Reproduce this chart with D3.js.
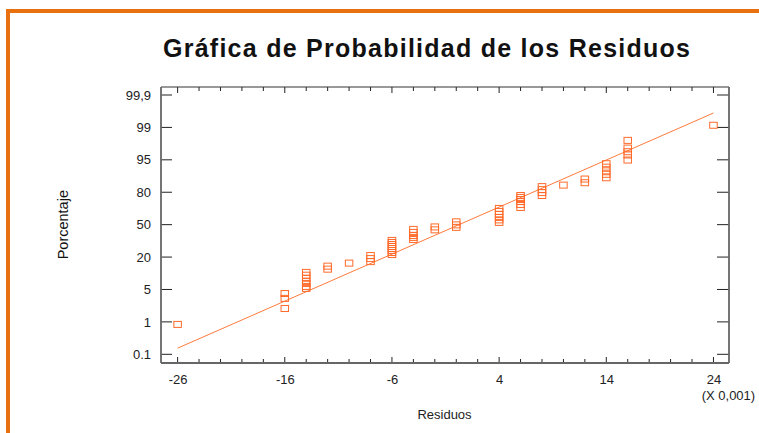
<!DOCTYPE html>
<html>
<head>
<meta charset="utf-8">
<script src="https://cdn.jsdelivr.net/npm/d3@7"></script>
<style>
  html, body { margin: 0; padding: 0; background: #fff; }
  svg { display: block; }
  text { font-family: "Liberation Sans", Arial, sans-serif; }
</style>
</head>
<body>
<div id="chart"></div>
<script>
// ---- data ----
const title = "Gráfica de Probabilidad de los Residuos";
const xLabel = "Residuos";
const yLabel = "Porcentaje";
const xScaleNote = "(X 0,001)";
const xTickValues = [-26, -16, -6, 4, 14, 24];
const yTickValues = [0.1, 1, 5, 20, 50, 80, 95, 99, 99.9];
const yTickLabels = ["0.1", "1", "5", "20", "50", "80", "95", "99", "99,9"];

// residuals (x 0.001) and plotted cumulative percentage for each point
const residuals = [
  -26,
  -16, -16, -16,
  -14, -14, -14, -14, -14, -14, -14,
  -12, -12,
  -10,
  -8, -8, -8,
  -6, -6, -6, -6, -6, -6, -6, -6,
  -4, -4, -4, -4, -4,
  -2, -2,
  0, 0, 0,
  4, 4, 4, 4, 4, 4,
  6, 6, 6, 6, 6, 6,
  8, 8, 8, 8,
  10,
  12, 12,
  14, 14, 14, 14, 14,
  16, 16, 16, 16, 16,
  24
];
const percents = [
  0.93,
  4.5, 3.9, 2.65,
  12.9, 11.6, 10.2, 8.75, 7.8, 6.4, 5.5,
  15.8, 14.4,
  17.2,
  21.4, 19.3, 17.9,
  35.4, 33.5, 31.6, 29.8, 27.9, 26.1, 24.2, 22.3,
  45.6, 42.8, 40.0, 38.2, 36.3,
  47.9, 45.2,
  52.6, 49.8, 47.5,
  65.0, 62.2, 59.5, 56.7, 54.4, 52.1,
  77.0, 75.2, 73.3, 71.4, 68.7, 65.9,
  82.6, 81.2, 79.7, 77.0,
  83.3,
  86.1, 84.4,
  93.2, 91.6, 89.9, 88.3, 86.7,
  97.4, 96.45, 96.0, 95.6, 94.9,
  99.06
];
// fitted reference line (endpoints)
const fitX = [-26, 24];
const fitP = [0.27, 99.4];

// ---- layout ----
const W = 759, H = 433;
const plot = { left: 161, right: 729, top: 87, bottom: 363 };
const yFirst = 354.3, yLast = 95;

const svg = d3.select("#chart").append("svg")
  .attr("width", W).attr("height", H);

// orange page border
svg.append("rect").attr("x", 6).attr("y", 9).attr("width", W - 6).attr("height", 4).attr("fill", "#e8700e");
svg.append("rect").attr("x", 6).attr("y", 9).attr("width", 4).attr("height", H - 9).attr("fill", "#e8700e");

const x = d3.scaleLinear().domain([-27.55, 25.45]).range([plot.left, plot.right]);
const step = (yFirst - yLast) / (yTickValues.length - 1);
const y = d3.scaleLinear()
  .domain(yTickValues)
  .range(yTickValues.map((d, i) => yFirst - i * step));

// title
svg.append("text")
  .attr("x", 163).attr("y", 57)
  .attr("font-size", 25).attr("font-weight", "bold")
  .attr("fill", "#111")
  .attr("textLength", 527).attr("lengthAdjust", "spacing")
  .text(title);

// minor x ticks
const xMinor = d3.range(-26, 24.01, 2);
const g = svg.append("g");

// bottom axis
const bottomAxis = d3.axisBottom(x).tickValues(xTickValues).tickSize(0).tickPadding(12)
  .tickFormat(d3.format("d"));
const gb = svg.append("g").attr("transform", `translate(0,${plot.bottom})`).call(bottomAxis);
gb.select(".domain").remove();
gb.selectAll("text").attr("font-size", 13).attr("fill", "#222")
  .attr("font-family", "'Liberation Sans', Arial, sans-serif")
  .text(d => d < 0 ? "-" + Math.abs(d) : d);

// left axis labels
const leftAxis = d3.axisLeft(y).tickValues(yTickValues).tickSize(0).tickPadding(10)
  .tickFormat((d, i) => yTickLabels[i]);
const gl = svg.append("g").attr("transform", `translate(${plot.left},0)`).call(leftAxis);
gl.select(".domain").remove();
gl.selectAll("text").attr("font-size", 13).attr("fill", "#222")
  .attr("font-family", "'Liberation Sans', Arial, sans-serif");

// ticks inside frame
const tickColor = "#222";
xMinor.forEach(v => {
  const major = xTickValues.includes(v);
  const len = major ? 6 : 4;
  g.append("line").attr("x1", x(v)).attr("x2", x(v))
    .attr("y1", plot.bottom).attr("y2", plot.bottom - len)
    .attr("stroke", tickColor).attr("stroke-width", 1);
  g.append("line").attr("x1", x(v)).attr("x2", x(v))
    .attr("y1", plot.top).attr("y2", plot.top + len)
    .attr("stroke", tickColor).attr("stroke-width", 1);
});
yTickValues.forEach(v => {
  g.append("line").attr("x1", plot.left).attr("x2", plot.left + 11)
    .attr("y1", y(v)).attr("y2", y(v)).attr("stroke", tickColor).attr("stroke-width", 1);
  g.append("line").attr("x1", plot.right).attr("x2", plot.right - 12)
    .attr("y1", y(v)).attr("y2", y(v)).attr("stroke", tickColor).attr("stroke-width", 1);
});

// frame
svg.append("line").attr("x1", plot.left).attr("x2", plot.right).attr("y1", plot.top).attr("y2", plot.top)
  .attr("stroke", "#333").attr("stroke-width", 1);
svg.append("line").attr("x1", plot.left).attr("x2", plot.right).attr("y1", plot.bottom).attr("y2", plot.bottom)
  .attr("stroke", "#666").attr("stroke-width", 1.8);
svg.append("line").attr("x1", plot.left).attr("x2", plot.left).attr("y1", plot.top).attr("y2", plot.bottom)
  .attr("stroke", "#666").attr("stroke-width", 1.8);
svg.append("line").attr("x1", plot.right).attr("x2", plot.right).attr("y1", plot.top).attr("y2", plot.bottom)
  .attr("stroke", "#666").attr("stroke-width", 1.8);

// fitted line
svg.append("line")
  .attr("x1", x(fitX[0])).attr("y1", y(fitP[0]))
  .attr("x2", x(fitX[1])).attr("y2", y(fitP[1]))
  .attr("stroke", "#ff7a3c").attr("stroke-width", 1);

// points
const pts = residuals.map((r, i) => ({ r, p: percents[i] }));
const sw = 7.5, sh = 6;
svg.append("g").selectAll("rect").data(pts).join("rect")
  .attr("x", d => x(d.r) - sw / 2)
  .attr("y", d => y(d.p) - sh / 2)
  .attr("width", sw).attr("height", sh)
  .attr("fill", "none")
  .attr("stroke", "#ff6a2a")
  .attr("stroke-width", 1);

// axis titles
svg.append("text").attr("x", 444.5).attr("y", 419)
  .attr("text-anchor", "middle").attr("font-size", 13).attr("fill", "#222")
  .text(xLabel);
svg.append("text").attr("x", 701.7).attr("y", 400)
  .attr("font-size", 13).attr("fill", "#222")
  .text(xScaleNote);
svg.append("text")
  .attr("transform", "translate(68,224.7) rotate(-90)")
  .attr("text-anchor", "middle").attr("font-size", 14.5).attr("fill", "#111")
  .text(yLabel);
</script>
</body>
</html>
